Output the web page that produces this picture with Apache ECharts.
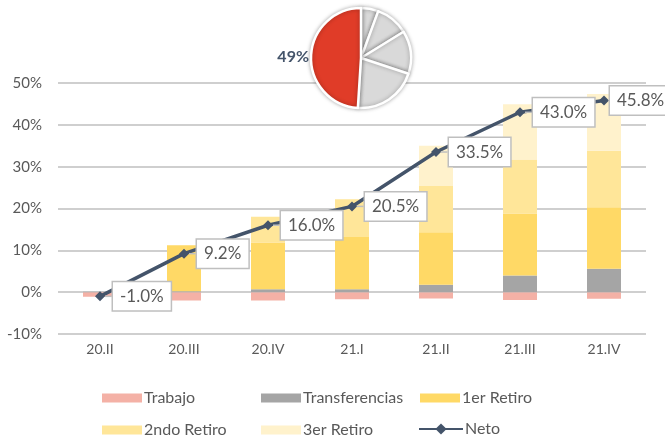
<!DOCTYPE html>
<html>
<head>
<meta charset="utf-8">
<script src="https://cdn.jsdelivr.net/npm/echarts@6/dist/echarts.min.js"></script>
<style>
  html, body { margin: 0; padding: 0; background: #ffffff; }
  #chart { width: 665px; height: 445px; }
</style>
</head>
<body>
<div id="chart"></div>
<script>
// Quarters shown on the category axis
var categories = ['20.II', '20.III', '20.IV', '21.I', '21.II', '21.III', '21.IV'];

// Stacked components (% contribution)
var trabajo        = [-1.1, -2.0, -2.0, -1.7, -1.5, -1.9, -1.6];
var transferencias = [0.1, 0.2, 0.7, 0.7, 1.8, 4.0, 5.6];
var retiro1        = [0.0, 11.0, 11.2, 12.5, 12.5, 14.8, 14.7];
var retiro2        = [0.0, 0.0, 6.1, 9.0, 11.1, 12.9, 13.5];
var retiro3        = [0.0, 0.0, 0.0, 0.0, 9.6, 13.2, 13.6];

// Net total
var neto = [-1.0, 9.2, 16.0, 20.5, 33.5, 43.0, 45.8];

// Y axis ticks
var yMin = -10, yMax = 50, yStep = 10;

// Small share pie (grey slices, highlighted slice last)
var pieValues = [5.6, 10.6, 13.9, 20.9, 49];
var pieHighlight = 49;

var TXT = '#595959';
var FONT = 'Lato';

var colors = {
  'Trabajo': '#F4B1A6',
  'Transferencias': '#A5A5A5',
  '1er Retiro': '#FFD966',
  '2ndo Retiro': '#FFE699',
  '3er Retiro': '#FFF2CC',
  'Neto': '#44546A'
};

function barSeries(name, data) {
  return {
    name: name,
    type: 'bar',
    stack: 'total',
    barWidth: 34,
    data: data,
    itemStyle: { color: colors[name] },
    emphasis: { disabled: true },
    z: 2
  };
}

function legendAt(name, left, top, isLine) {
  return {
    data: [name],
    left: left,
    top: top,
    itemWidth: isLine ? 44 : 40,
    itemHeight: isLine ? 14 : 9,
    itemGap: 0,
    icon: isLine ? undefined : 'rect',
    selectedMode: false,
    textStyle: { color: TXT, fontSize: 16, fontFamily: FONT, padding: [0, 0, 0, -3] }
  };
}

var pieData = pieValues.map(function (v, i) {
  var hi = (i === pieValues.length - 1);
  return {
    value: v,
    name: 'p' + i,
    itemStyle: { color: hi ? '#E03C28' : '#D9D9D9' },
    label: hi ? {
      show: true,
      position: 'outside',
      formatter: pieHighlight + '%',
      color: '#44546A',
      fontWeight: 'bold',
      fontSize: 16,
      fontFamily: FONT,
      distanceToLabelLine: 0
    } : { show: false },
    labelLine: { show: false, length: 2, length2: 0 }
  };
});

// Value boxes sit to the right of each point; the last one hugs its point
var lastIdx = neto.length - 1;

var chart = echarts.init(document.getElementById('chart'), null, { renderer: 'canvas' });

chart.setOption({
  animation: false,
  textStyle: { fontFamily: FONT },
  grid: { left: 58, right: 19, top: 83, bottom: 111, containLabel: false },
  legend: [
    legendAt('Trabajo', 97, 385, false),
    legendAt('Transferencias', 256, 385, false),
    legendAt('1er Retiro', 415, 385, false),
    legendAt('2ndo Retiro', 97, 417, false),
    legendAt('3er Retiro', 256, 417, false),
    legendAt('Neto', 413, 416, true)
  ],
  xAxis: {
    type: 'category',
    data: categories,
    axisLine: { show: false },
    axisTick: { show: false },
    axisLabel: { color: TXT, fontSize: 14, margin: 8, fontFamily: FONT }
  },
  yAxis: {
    type: 'value',
    min: yMin,
    max: yMax,
    interval: yStep,
    axisLine: { show: false },
    axisTick: { show: false },
    axisLabel: { color: TXT, fontSize: 15, margin: 16, fontFamily: FONT,
      formatter: function (v) { return v + '%'; } },
    splitLine: { lineStyle: { color: '#CFCFCF', width: 2 } }
  },
  series: [
    barSeries('Trabajo', trabajo),
    barSeries('Transferencias', transferencias),
    barSeries('1er Retiro', retiro1),
    barSeries('2ndo Retiro', retiro2),
    barSeries('3er Retiro', retiro3),
    {
      name: 'Neto',
      type: 'line',
      data: neto,
      z: 5,
      symbol: 'diamond',
      symbolSize: 10,
      lineStyle: { color: colors['Neto'], width: 3.5 },
      itemStyle: { color: colors['Neto'] },
      emphasis: { disabled: true },
      label: {
        show: true,
        position: 'inside',
        formatter: function (p) { return p.value.toFixed(1) + '%'; },
        color: TXT,
        fontSize: 17,
        fontFamily: FONT,
        backgroundColor: '#ffffff',
        borderColor: '#BFBFBF',
        borderWidth: 1.5,
        padding: [6, 7, 5, 7]
      },
      labelLine: { show: true, lineStyle: { color: '#BFBFBF', width: 1.5 } },
      labelLayout: function (p) {
        var gap = p.dataIndex === lastIdx ? 6 : 13;
        return {
          x: p.rect.x + p.rect.width / 2 + gap,
          y: p.rect.y + p.rect.height / 2,
          align: 'left',
          verticalAlign: 'middle'
        };
      }
    },
    {
      name: 'share',
      type: 'pie',
      center: [361, 58],
      radius: [0, 50],
      startAngle: 90,
      clockwise: true,
      z: 10,
      silent: true,
      avoidLabelOverlap: false,
      itemStyle: { borderColor: '#ffffff', borderWidth: 2.5,
        shadowBlur: 4, shadowColor: 'rgba(0,0,0,0.3)' },
      data: pieData
    }
  ]
});
</script>
</body>
</html>
